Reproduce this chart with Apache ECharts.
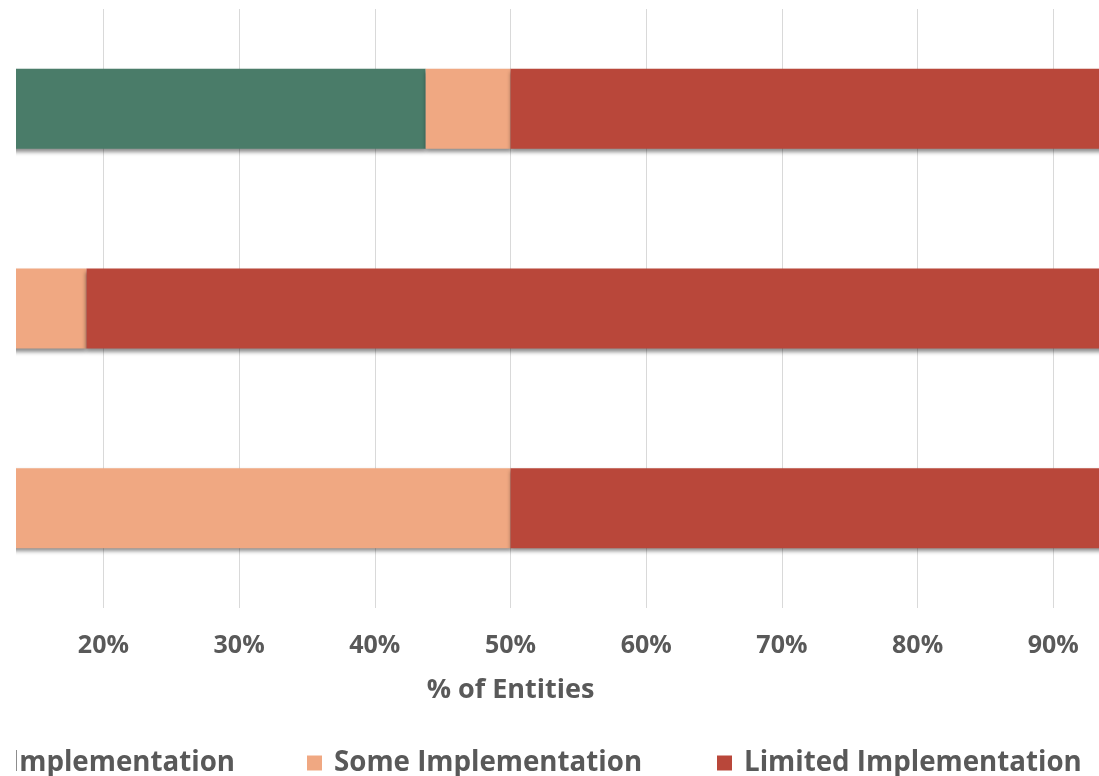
<!DOCTYPE html>
<html>
<head>
<meta charset="utf-8">
<script src="https://cdn.jsdelivr.net/npm/echarts@6/dist/echarts.min.js"></script>
<style>
  html, body { margin: 0; padding: 0; background: #fff; }
  #chart { position: absolute; left: 16px; top: 0; width: 1083px; height: 776px; overflow: hidden; }
</style>
</head>
<body>
<div id="chart"></div>
<script>
// three groups of entities, top to bottom
const categories = ['Group A', 'Group B', 'Group C'];
const fullImpl = [43.75, 0, 0];
const someImpl = [6.25, 18.75, 50];
const limitedImpl = [50, 81.25, 50];
const seriesNames = ['Full Implementation', 'Some Implementation', 'Limited Implementation'];
const colors = ['#4a7c69', '#f0a882', '#b9473a'];

const FONT = '"Open Sans", sans-serif';
const TEXT = '#595959';

const chart = echarts.init(document.getElementById('chart'));

const barShadow = {
  shadowColor: 'rgba(0,0,0,0.45)',
  shadowBlur: 4,
  shadowOffsetY: 3
};

function bar(name, data, color) {
  return {
    name,
    type: 'bar',
    stack: 'total',
    data,
    barWidth: 80,
    itemStyle: Object.assign({ color }, barShadow),
    emphasis: { disabled: true }
  };
}

function legendItem(name, pos) {
  return Object.assign({
    data: [name],
    top: 749,
    padding: 0,
    itemWidth: 15,
    itemHeight: 15,
    icon: 'rect',
    textStyle: { fontFamily: FONT, fontWeight: 'bold', fontSize: 27.7, color: TEXT, padding: [0, 0, 0, 7] }
  }, pos);
}

chart.setOption({
  animation: false,
  color: colors,
  grid: {
    left: -184,
    right: -90,
    top: 9,
    bottom: 168,
    containLabel: false,
    outerBoundsMode: 'none'
  },
  xAxis: {
    type: 'value',
    min: 0,
    max: 100,
    interval: 10,
    name: '% of Entities',
    nameLocation: 'middle',
    nameGap: 69,
    nameTextStyle: { fontFamily: FONT, fontWeight: 'bold', fontSize: 27, color: TEXT },
    axisLine: { show: false },
    axisTick: { show: false },
    axisLabel: {
      margin: 25,
      formatter: '{value}%',
      fontFamily: FONT,
      fontWeight: 'bold',
      fontSize: 25,
      color: TEXT
    },
    splitLine: { show: true, lineStyle: { color: '#d9d9d9', width: 1 } }
  },
  yAxis: {
    type: 'category',
    data: categories,
    inverse: true,
    axisLine: { show: false },
    axisTick: { show: false },
    axisLabel: { show: false },
    splitLine: { show: false }
  },
  legend: [
    legendItem(seriesNames[0], { right: 864 }),
    legendItem(seriesNames[1], { left: 291 }),
    legendItem(seriesNames[2], { left: 701 })
  ],
  series: [
    bar(seriesNames[0], fullImpl, colors[0]),
    bar(seriesNames[1], someImpl, colors[1]),
    bar(seriesNames[2], limitedImpl, colors[2])
  ]
});
</script>
</body>
</html>
